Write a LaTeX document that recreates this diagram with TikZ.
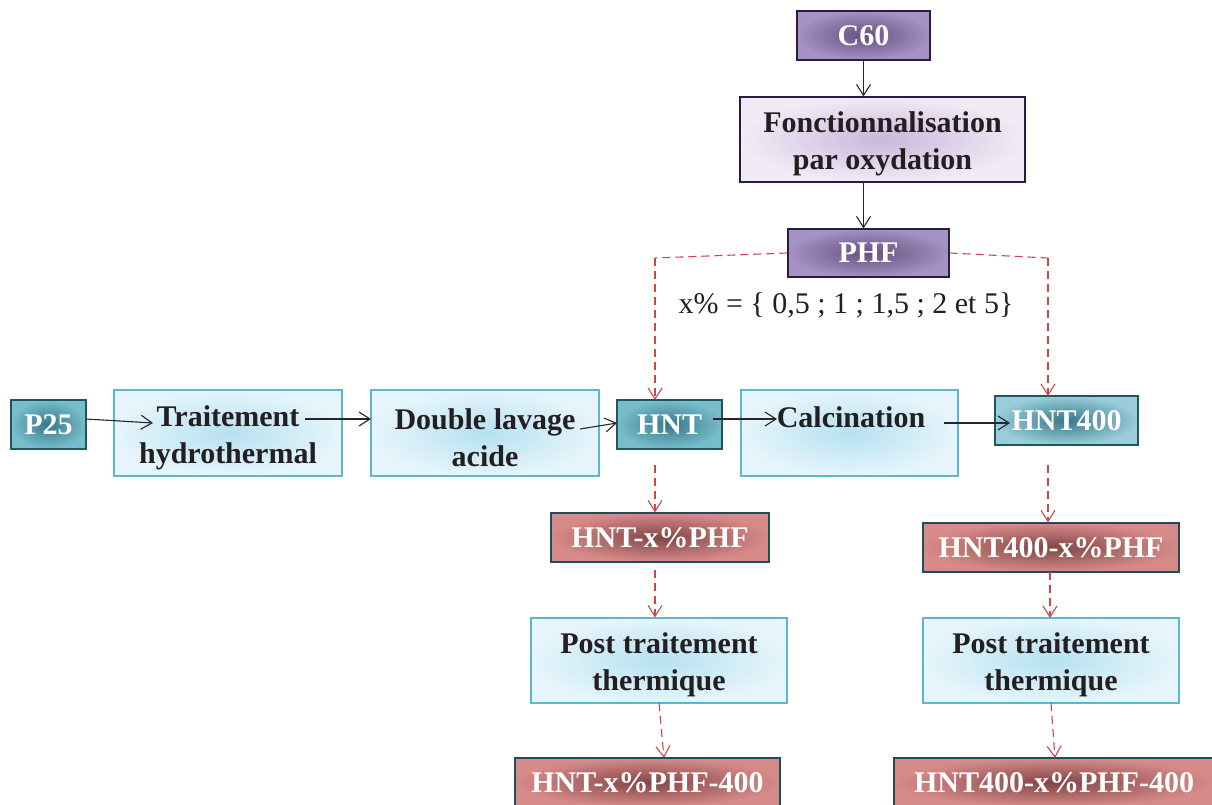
\documentclass[tikz,border=0pt]{standalone}
\usepackage{fontspec}
\setmainfont{Liberation Serif}
\usetikzlibrary{arrows.meta}
\definecolor{purpin}{HTML}{65507E}
\definecolor{purpout}{HTML}{A591C2}
\definecolor{purpborder}{HTML}{2A1B42}
\definecolor{lpurpin}{HTML}{CBB6DA}
\definecolor{lpurpout}{HTML}{F1EBF6}
\definecolor{tealin}{HTML}{37788A}
\definecolor{tealout}{HTML}{78BDCC}
\definecolor{tealborder}{HTML}{1E5763}
\definecolor{lbluein}{HTML}{B6E1F1}
\definecolor{lblueout}{HTML}{E6F5FB}
\definecolor{lblueborder}{HTML}{5BB7CB}
\definecolor{redin}{HTML}{824545}
\definecolor{redout}{HTML}{D78B89}
\definecolor{redborder}{HTML}{1F4C57}
\definecolor{dashred}{HTML}{D04545}
\definecolor{txt}{HTML}{231F20}
\begin{document}
\begin{tikzpicture}[x=1pt,y=-1pt,
  box/.style={draw, line width=1.2pt, inner sep=0pt, align=center,
    font=\fontsize{30}{37}\selectfont\bfseries},
  darkbox/.style={box, text=white},
  purpbox/.style={darkbox, draw=purpborder, inner color=purpin, outer color=purpout},
  lpurpbox/.style={box, text=txt, draw=purpborder, inner color=lpurpin, outer color=lpurpout},
  tealbox/.style={darkbox, draw=tealborder, inner color=tealin, outer color=tealout},
  lbluebox/.style={box, text=txt, draw=lblueborder, inner color=lbluein, outer color=lblueout},
  redbox/.style={darkbox, draw=redborder, inner color=redin, outer color=redout},
  twoline/.style={label={[inner sep=0pt, align=center, text=txt,
    font=\fontsize{30}{37}\selectfont\bfseries, yshift=-4.5pt]center:{#1}}},
  blk/.style={draw=black!85, line width=1.1pt, -{Straight Barb[length=11pt,width=14pt,line width=1.1pt]}},
  rdash/.style={draw=dashred, line width=1.1pt, dash pattern=on 8pt off 5pt,
    -{Straight Barb[length=11pt,width=14pt,line width=1.1pt]}},
  rdashplain/.style={draw=dashred, line width=1.1pt, dash pattern=on 8pt off 5pt},
  lbl/.style={inner sep=0pt, text=txt}
]
\useasboundingbox (0,0) rectangle (1212,805);

% purple column
\node[purpbox, minimum width=133pt, minimum height=49pt] (c60) at (863.5,35.5) {C60};
\node[lpurpbox, minimum width=285pt, minimum height=85pt,
  twoline={Fonctionnalisation\\par oxydation}] (fonc) at (882.5,139.5) {};
\node[purpbox, minimum width=161pt, minimum height=48pt] (phf) at (868.5,253) {PHF};

% main row
\node[tealbox, minimum width=75pt, minimum height=49pt] (p25) at (48.5,424.5) {P25};
\node[lbluebox, minimum width=228pt, minimum height=86pt,
  twoline={Traitement\\hydrothermal}] (trait) at (228,433) {};
\node[lbluebox, minimum width=228pt, minimum height=86pt,
  twoline={Double lavage\\acide}] (lav) at (485,433) {};
\node[tealbox, minimum width=105pt, minimum height=49pt] (hnt) at (669.5,424.5) {HNT};
\node[lbluebox, minimum width=217pt, minimum height=86pt] (calc) at (849.5,433) {};
\node[lbl, font=\fontsize{30}{37}\selectfont\bfseries] (calctxt) at (851,417) {Calcination};
\node[tealbox, minimum width=143pt, minimum height=49pt, outer color=tealout!75!white] (hnt4) at (1066.5,420.5) {HNT400};

% left branch
\node[redbox, minimum width=218pt, minimum height=49pt] (hntx) at (660,537.5) {HNT-x\%PHF};
\node[lbluebox, minimum width=256pt, minimum height=85pt,
  twoline={Post traitement\\thermique}] (postl) at (659,660.5) {};
\node[redbox, minimum width=265pt, minimum height=49pt] (hntx4) at (647.5,782.5) {HNT-x\%PHF-400};

% right branch
\node[redbox, minimum width=256pt, minimum height=49pt] (hnt4x) at (1051,547.5) {HNT400-x\%PHF};
\node[lbluebox, minimum width=256pt, minimum height=85pt,
  twoline={Post traitement\\thermique}] (postr) at (1051,660.5) {};
\node[redbox, minimum width=320pt, minimum height=49pt] (hnt4x4) at (1054,782.5) {HNT400-x\%PHF-400};

% label
\node[lbl, font=\fontsize{30}{36}\selectfont] (xlbl) at (846,305) {x\% = \{ 0,5 ; 1 ; 1,5 ; 2 et 5\}};

% coordinates for connector ends
\coordinate (phfL) at (655,258);
\coordinate (phfR) at (1048,258);
\coordinate (hntIn) at (655,400);
\coordinate (hnt4In) at (1048,396);
\coordinate (p25Out) at (86,419);
\coordinate (trIn) at (153,423);
\coordinate (trOut) at (305,419);
\coordinate (lavIn) at (371,419);
\coordinate (lavOut) at (580,429);
\coordinate (hntL) at (617,423);
\coordinate (hntOut) at (713,419);
\coordinate (calcIn) at (777,419);
\coordinate (calcOut) at (944,423);
\coordinate (hnt4Tip) at (1010,423);
\coordinate (hntDown) at (655,465);
\coordinate (hnt4Down) at (1048,465);
\coordinate (hntxDown) at (655,570);
\coordinate (postlDown) at (659,703);
\coordinate (hntx4In) at (664,758);
\coordinate (hnt4xDown) at (1050,572);
\coordinate (postrIn) at (1050,618);
\coordinate (postrDown) at (1051,703);
\coordinate (hnt4x4In) at (1055,758);

% black arrows
\draw[blk] (c60.south) -- (c60.south |- fonc.north);
\draw[blk] (c60.south |- fonc.south) -- (c60.south |- phf.north);
\draw[blk] (p25Out) -- (trIn);
\draw[blk] (trOut) -- (lavIn);
\draw[blk] (lavOut) -- (hntL);
\draw[blk] (hntOut) -- (calcIn);
\draw[blk] (calcOut) -- (hnt4Tip);

% red dashed
\draw[rdashplain] (phf.west) -- (phfL);
\draw[rdash] (phfL) -- (hntIn);
\draw[rdashplain] (phf.east) -- (phfR);
\draw[rdash] (phfR) -- (hnt4In);
\draw[rdash] (hntDown) -- (hntDown |- hntx.north);
\draw[rdash] (hntxDown) -- (hntxDown |- postl.north);
\draw[rdash] (postlDown) -- (hntx4In);
\draw[rdash] (hnt4Down) -- (hnt4Down |- hnt4x.north);
\draw[rdash] (hnt4xDown) -- (postrIn);
\draw[rdash] (postrDown) -- (hnt4x4In);
\end{tikzpicture}
\end{document}
